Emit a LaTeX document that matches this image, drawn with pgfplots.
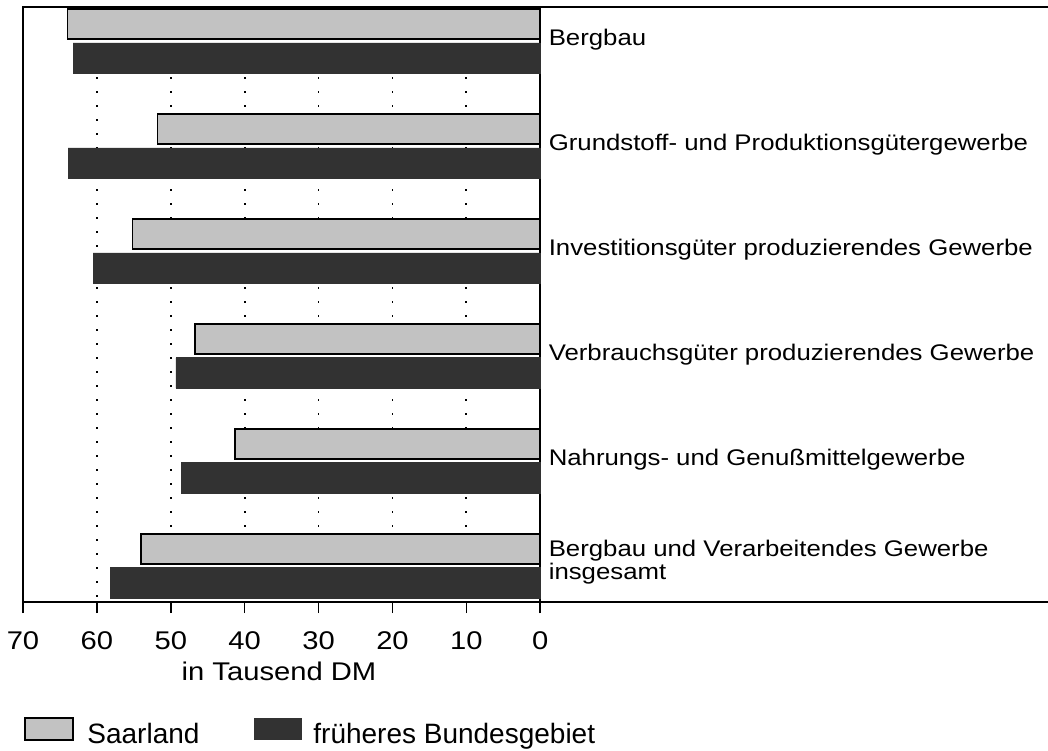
\documentclass[border=0pt]{standalone}
\usepackage{pgfplots}
\pgfplotsset{compat=1.18}
\usepackage{fontspec}
\setmainfont{Liberation Sans}
\newfontfamily\widefont[FakeStretch=1.14]{Liberation Sans}
\definecolor{lightbar}{HTML}{C2C2C2}
\definecolor{darkbar}{HTML}{323232}
\begin{document}
\begin{tikzpicture}
\useasboundingbox (0,0) rectangle (524pt,-375pt);
\begin{axis}[
  at={(11.5pt,-3.5pt)}, anchor=north west,
  scale only axis, width=513.6pt, height=297.5pt,
  x dir=reverse, y dir=reverse,
  xmin=-69, xmax=70,
  ymin=-0.324, ymax=5.343,
  xbar, bar width=0.29, bar shift=0pt,
  xtick={0,10,...,70},
  xtick pos=bottom,
  /pgf/number format/assume math mode=true,
  xticklabel style={font=\widefont\fontsize{12.8}{15}\selectfont, yshift=-6pt},
  ytick=\empty,
  tick align=outside, major tick length=5.5pt,
  xtick style={black, line width=0.8pt},
  axis line style={line width=0.8pt},
  xmajorgrids,
  grid style={black, line width=0.9pt, dash pattern=on 0.9pt off 6.1pt},
  extra x ticks={0}, extra x tick labels={},
  extra x tick style={major grid style={solid, black, line width=0.9pt}},
  clip=false,
]
\addplot[fill=lightbar, draw=black, line width=0.8pt] coordinates {
  (64.0,-0.162) (51.8,0.838) (55.2,1.838) (46.7,2.838) (41.3,3.838) (54.0,4.838)
};
\addplot[fill=darkbar, draw=darkbar, line width=0.3pt] coordinates {
  (63.2,0.162) (63.9,1.162) (60.5,2.162) (49.3,3.162) (48.6,4.162) (58.2,5.162)
};
\node[anchor=base west, inner sep=0pt, font=\widefont\fontsize{11.3}{13}\selectfont] at (axis cs:-1.1,0.04) {Bergbau};
\node[anchor=base west, inner sep=0pt, font=\widefont\fontsize{11.3}{13}\selectfont] at (axis cs:-1.1,1.04) {Grundstoff- und Produktionsgütergewerbe};
\node[anchor=base west, inner sep=0pt, font=\widefont\fontsize{11.3}{13}\selectfont] at (axis cs:-1.1,2.04) {Investitionsgüter produzierendes Gewerbe};
\node[anchor=base west, inner sep=0pt, font=\widefont\fontsize{11.3}{13}\selectfont] at (axis cs:-1.1,3.04) {Verbrauchsgüter produzierendes Gewerbe};
\node[anchor=base west, inner sep=0pt, font=\widefont\fontsize{11.3}{13}\selectfont] at (axis cs:-1.1,4.04) {Nahrungs- und Genußmittelgewerbe};
\node[anchor=base west, inner sep=0pt, font=\widefont\fontsize{11.3}{13}\selectfont] at (axis cs:-1.1,4.914) {Bergbau und Verarbeitendes Gewerbe};
\node[anchor=base west, inner sep=0pt, font=\widefont\fontsize{11.3}{13}\selectfont] at (axis cs:-1.1,5.133) {insgesamt};
\end{axis}
\node[anchor=base, inner sep=0pt, font=\widefont\fontsize{12.8}{15}\selectfont] at (139.5pt,-340pt) {in Tausend DM};
\draw[fill=lightbar, draw=black, line width=0.8pt] (12.5pt,-359pt) rectangle (36.5pt,-370pt);
\node[anchor=base west, inner sep=0pt, font=\fontsize{14}{16}\selectfont] at (43.5pt,-371.5pt) {Saarland};
\fill[darkbar] (127pt,-359pt) rectangle (151pt,-370pt);
\node[anchor=base west, inner sep=0pt, font=\fontsize{14}{16}\selectfont] at (156.5pt,-371.5pt) {früheres Bundesgebiet};
\end{tikzpicture}
\end{document}
